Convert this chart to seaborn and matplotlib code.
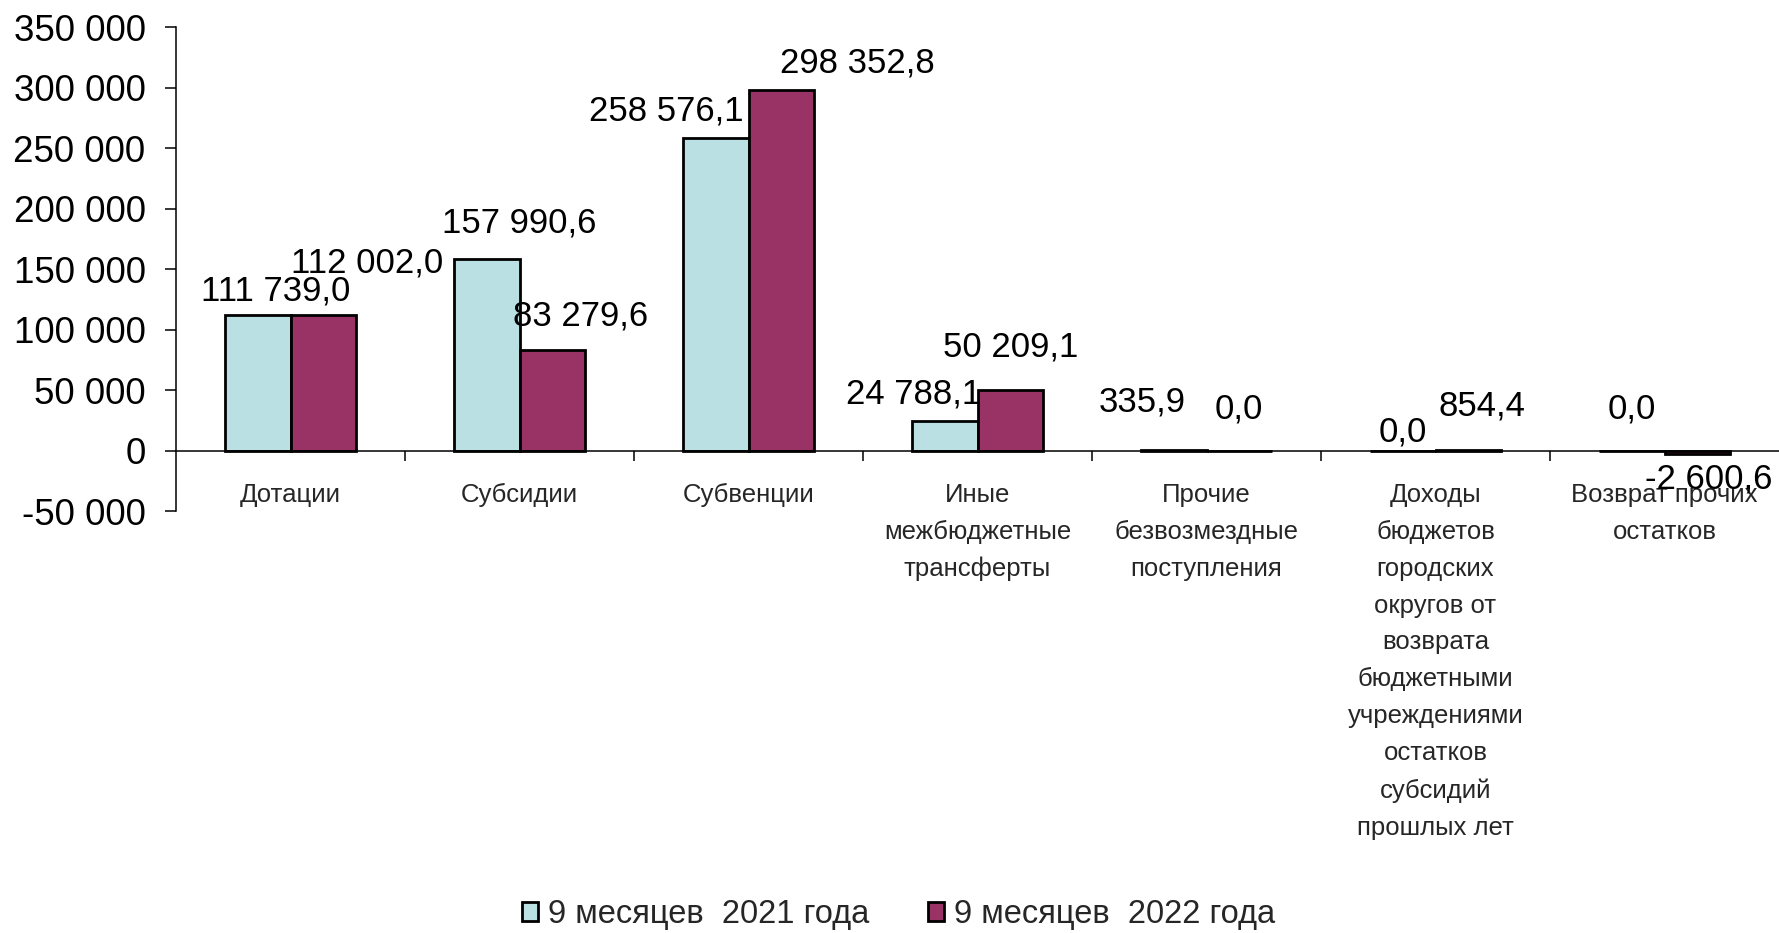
import pandas as pd
import matplotlib.pyplot as plt
import seaborn as sns
from matplotlib.ticker import FuncFormatter, FixedLocator

categories = [
    "Дотации",
    "Субсидии",
    "Субвенции",
    "Иные\nмежбюджетные\nтрансферты",
    "Прочие\nбезвозмездные\nпоступления",
    "Доходы\nбюджетов\nгородских\nокругов от\nвозврата\nбюджетными\nучреждениями\nостатков\nсубсидий\nпрошлых лет",
    "Возврат прочих\nостатков",
]
periods = ["9 месяцев  2021 года", "9 месяцев  2022 года"]
values_2021 = [111739.0, 157990.6, 258576.1, 24788.1, 335.9, 0.0, 0.0]
values_2022 = [112002.0, 83279.6, 298352.8, 50209.1, 0.0, 854.4, -2600.6]
y_ticks = [-50000, 0, 50000, 100000, 150000, 200000, 250000, 300000, 350000]

df = pd.DataFrame({
    "cat": categories * 2,
    "period": [periods[0]] * 7 + [periods[1]] * 7,
    "value": values_2021 + values_2022,
})

sns.set_style("white")
plt.rcParams["font.family"] = ["Liberation Sans", "DejaVu Sans"]

fig = plt.figure(figsize=(17.79, 9.33), dpi=100)
ax = fig.add_axes([0.099, 0.452, 0.901, 0.519])

sns.barplot(data=df, x="cat", y="value", hue="period", order=categories,
            hue_order=periods, palette=["#BBE0E3", "#993366"], saturation=1,
            width=0.57, edgecolor="black", linewidth=2.0, errorbar=None, ax=ax)

ax.set_xlim(-0.5, 6.5)
ax.set_ylim(-50000, 350000)
ax.set_xlabel("")
ax.set_ylabel("")

# spines: y axis on left, x axis line at zero
for s in ["top", "right"]:
    ax.spines[s].set_visible(False)
ax.spines["bottom"].set_position(("data", 0))
ax.spines["bottom"].set_color("black")
ax.spines["left"].set_color("black")
ax.spines["bottom"].set_linewidth(1.1)
ax.spines["left"].set_linewidth(1.1)

ax.yaxis.set_major_locator(FixedLocator(y_ticks))
ax.yaxis.set_major_formatter(FuncFormatter(lambda v, p: f"{v:,.0f}".replace(",", " ")))
ax.tick_params(axis="y", direction="out", length=8, width=1.1, pad=14,
               labelsize=26.5, left=True, colors="black")

ax.set_xticks(range(len(categories)))
ax.set_xticklabels(categories, fontsize=18.5, linespacing=1.68)
ax.xaxis.set_minor_locator(FixedLocator([i + 0.5 for i in range(6)]))
ax.tick_params(axis="x", which="major", length=0, pad=23, bottom=True)
ax.tick_params(axis="x", which="minor", direction="out", length=7, width=1.1,
               bottom=True, colors="black")

# data labels (offsets in pixels, placed as on the original)
offsets = [
    [(18, 24), (32, 36), (-50, 27), (-31, 27), (-32, 48), (0, 19), (0, 42)],
    [(44, 52), (28, 34), (76, 27), (0, 43), (0, 42), (14, 44), (12, -25)],
]
series = [values_2021, values_2022]
for k, cont in enumerate(ax.containers[:2]):
    for i, p in enumerate(cont.patches):
        v = series[k][i]
        xc = p.get_x() + p.get_width() / 2
        txt = f"{v:,.1f}".replace(",", " ").replace(".", ",")
        dx, dy = offsets[k][i]
        ax.annotate(txt, xy=(xc, v), xytext=(dx, dy), textcoords="offset pixels",
                    ha="center", va="center", fontsize=25, color="black")

handles, labels = ax.get_legend_handles_labels()
ax.get_legend().remove()
fig.legend(handles, labels, loc="center", bbox_to_anchor=(0.505, 0.02), ncol=2,
           frameon=False, fontsize=23.5, handlelength=0.5, handleheight=0.5,
           handletextpad=0.3, columnspacing=1.8)

fig.savefig("out.png", dpi=100)
